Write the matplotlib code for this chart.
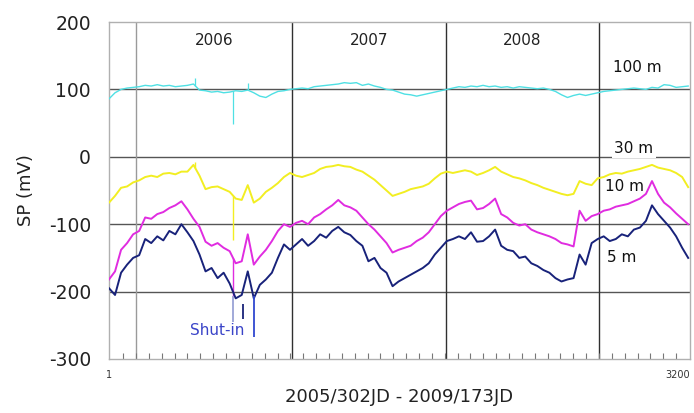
import numpy as np
import matplotlib
matplotlib.use("Agg")
import matplotlib.pyplot as plt

plt.rcParams['font.family'] = ['DejaVu Sans']

# Sample index along the record (2005/302JD .. 2009/173JD mapped onto 1..3200)
n_samples = 97
x = np.linspace(1, 3190, n_samples)

# Self-potential at four electrode depths (mV)
sp_100m = [86, 95, 100, 102, 103, 104, 106, 105, 107, 105, 106, 104, 105, 106, 108, 99,
           98, 96, 97, 95, 96, 98, 97, 99, 95, 90, 88, 93, 97, 98, 100, 101,
           102, 101, 104, 105, 106, 107, 108, 110, 109, 110, 106, 108, 105, 103, 100, 99,
           96, 93, 92, 90, 92, 94, 96, 98, 100, 102, 104, 103, 105, 104, 106, 104,
           105, 103, 104, 102, 104, 103, 102, 101, 102, 100, 97, 92, 88, 91, 93, 91,
           93, 95, 97, 98, 99, 100, 101, 102, 101, 100, 103, 102, 107, 106, 103, 104, 105]

sp_30m = [-68, -58, -46, -44, -38, -35, -30, -28, -30, -25, -24, -26, -22, -22, -12, -28,
          -48, -45, -44, -48, -52, -62, -64, -42, -68, -62, -52, -46, -39, -30, -24, -28,
          -30, -27, -24, -18, -15, -14, -12, -14, -15, -19, -22, -28, -34, -42, -50, -58,
          -55, -52, -48, -46, -44, -40, -32, -25, -22, -24, -22, -20, -22, -27, -24, -20,
          -15, -22, -26, -30, -32, -35, -39, -42, -46, -49, -52, -55, -57, -55, -36, -40,
          -42, -32, -30, -26, -24, -25, -22, -20, -18, -15, -12, -16, -18, -20, -24, -30, -45]

sp_10m = [-182, -170, -138, -128, -115, -110, -90, -92, -85, -82, -76, -72, -66, -78, -92, -104,
          -126, -132, -128, -135, -140, -158, -155, -115, -160, -148, -138, -125, -110, -100, -104, -98,
          -95, -100, -90, -85, -78, -72, -64, -72, -75, -80, -90, -100, -108, -118, -128, -142,
          -138, -135, -132, -125, -120, -112, -100, -88, -80, -75, -70, -67, -65, -78, -76, -70,
          -62, -85, -90, -98, -102, -100, -108, -112, -115, -118, -122, -128, -130, -133, -80, -95,
          -88, -85, -80, -78, -74, -72, -70, -66, -62, -55, -36, -55, -68, -75, -84, -92, -100]

sp_5m = [-195, -205, -172, -160, -150, -146, -122, -128, -118, -124, -110, -115, -100, -112, -125, -145,
         -170, -165, -180, -172, -188, -210, -205, -170, -210, -190, -182, -172, -150, -130, -138, -130,
         -122, -132, -125, -115, -120, -110, -104, -112, -116, -125, -132, -155, -150, -165, -172, -192,
         -185, -180, -175, -170, -165, -158, -145, -135, -125, -122, -118, -122, -112, -126, -125, -118,
         -108, -132, -138, -140, -150, -148, -158, -162, -168, -172, -180, -185, -182, -180, -145, -160,
         -128, -122, -118, -125, -122, -115, -118, -108, -105, -95, -72, -85, -95, -105, -118, -135, -150]

# Short excursions (sample index, tip value)
spike_100m_x = [475, 684, 766]
spike_100m_y = [117, 48, 109]
spike_30m_x = [475, 684]
spike_30m_y = [-7, -123]
spike_10m_x = [684]
spike_10m_y = [-208]

# Shut-in markers
shutin_x = [684, 739, 800]
shutin_top = [-207, -218, -207]
shutin_bottom = [-245, -240, -267]
shutin_colors = ['#9aa2d6', '#1a237a', '#3048d0']

# Year boundaries and labels
year_x = [150, 1008, 1856, 2699]
year_colors = ['#9a9a9a', '#303030', '#303030', '#303030']
year_labels = ['2006', '2007', '2008']
year_label_x = [579, 1432, 2277]

yticks = [-300, -200, -100, 0, 100, 200]

c100, c30, c10, c5 = '#4fe0e4', '#f2ee22', '#e02ce0', '#18227a'

fig = plt.figure(figsize=(6.94, 4.13), dpi=100)
ax = fig.add_axes([109 / 694, 1 - 359 / 413, 581 / 694, 337 / 413])
ax.set_xlim(1, 3200)
ax.set_ylim(-300, 200)

# horizontal grid
for yv in [100, 0, -100, -200]:
    ax.axhline(yv, color='#555555', lw=1.0, zorder=1)
for xv, col in zip(year_x, year_colors):
    ax.axvline(xv, color=col, lw=1.0, zorder=1)

ax.plot(x, sp_100m, color=c100, lw=1.0, zorder=3)
ax.plot(x, sp_30m, color=c30, lw=1.4, zorder=3)
ax.plot(x, sp_10m, color=c10, lw=1.4, zorder=4)
ax.plot(x, sp_5m, color=c5, lw=1.4, zorder=5)

ax.vlines(spike_100m_x, np.interp(spike_100m_x, x, sp_100m), spike_100m_y, color=c100, lw=0.9, zorder=3)
ax.vlines(spike_30m_x, np.interp(spike_30m_x, x, sp_30m), spike_30m_y, color=c30, lw=1.0, zorder=3)
ax.vlines(spike_10m_x, np.interp(spike_10m_x, x, sp_10m), spike_10m_y, color=c10, lw=1.0, zorder=4)
ax.vlines(shutin_x, shutin_bottom, shutin_top, colors=shutin_colors, lw=1.3, zorder=6)

for lab, xv in zip(year_labels, year_label_x):
    ax.text(xv, 173, lab, ha='center', va='center', fontsize=11, color='#222222')

ax.text(2908, 133, '100 m', ha='center', va='center', fontsize=11, color='#111111')
ax.text(2892, 12, '30 m', ha='center', va='center', fontsize=11, color='#111111',
        bbox=dict(facecolor='white', edgecolor='none', pad=1.5), zorder=7)
ax.text(2837, -44, '10 m', ha='center', va='center', fontsize=11, color='#111111', zorder=7)
ax.text(2826, -150, '5 m', ha='center', va='center', fontsize=11, color='#111111', zorder=7)
ax.text(598, -257, 'Shut-in', ha='center', va='center', fontsize=11, color='#3a44c8', zorder=7)

ax.set_yticks(yticks)
ax.set_yticklabels([str(v) for v in yticks], fontsize=13.5, color='#222222')
ax.tick_params(axis='y', length=0, pad=13)

ax.set_xticks([1, 3200])
ax.set_xticklabels(['1', '3200'], fontsize=7, color='#333333')
ax.get_xticklabels()[1].set_horizontalalignment('right')
ax.tick_params(axis='x', which='major', length=0, pad=8)
month_step = (year_x[-1] - year_x[0]) / 36
minor = np.arange(year_x[0] - 2 * month_step, 3200, month_step)
minor = minor[(minor > 20) & (minor < 3190)]
ax.set_xticks(minor, minor=True)
ax.tick_params(axis='x', which='minor', direction='in', length=4, width=0.8, color='#777777')

for sp in ax.spines.values():
    sp.set_color('#b0b0b0')
    sp.set_linewidth(1.0)

ax.set_ylabel('SP (mV)', fontsize=13, color='#222222', labelpad=10)
ax.set_xlabel('2005/302JD - 2009/173JD', fontsize=13, color='#222222', labelpad=6)

fig.savefig('out.png', dpi=100)
